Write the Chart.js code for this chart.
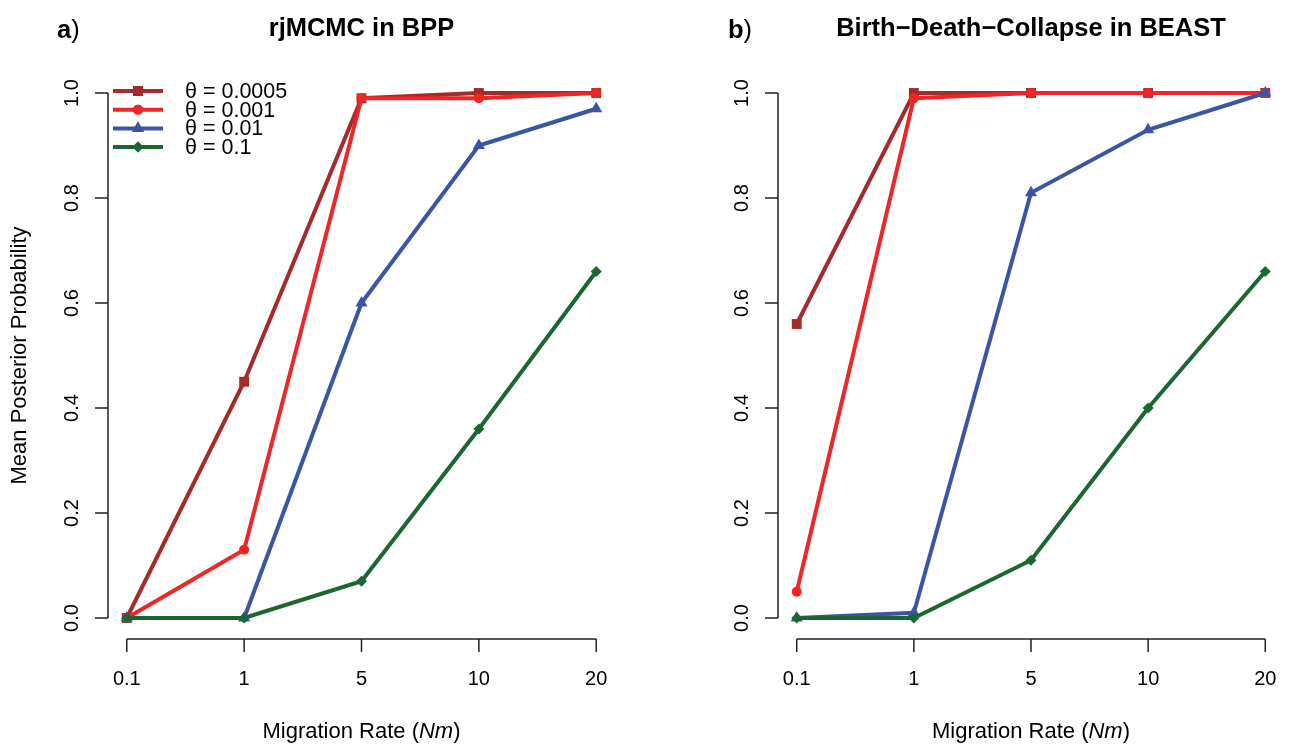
<!DOCTYPE html>
<html>
<head>
<meta charset="utf-8">
<script src="https://cdn.jsdelivr.net/npm/chart.js@4.4.1/dist/chart.umd.min.js"></script>
<style>
  html, body { margin: 0; padding: 0; background: #fff; overflow: hidden; }
  #wrap { position: relative; width: 1291px; height: 749px; }
  canvas { position: absolute; left: 0; top: 0; }
</style>
</head>
<body>
<div id="wrap">
  <canvas id="bppChart" width="1291" height="749"></canvas>
  <canvas id="beastChart" width="1291" height="749"></canvas>
</div>
<script>
const migrationRates = ['0.1', '1', '5', '10', '20'];
const yTicks = [0, 0.2, 0.4, 0.6, 0.8, 1.0];
const thetaLabels = ['θ = 0.0005', 'θ = 0.001', 'θ = 0.01', 'θ = 0.1'];

// panel a) rjMCMC in BPP
const bppTheta0005 = [0, 0.45, 0.99, 1.0, 1.0];
const bppTheta001 = [0, 0.13, 0.99, 0.99, 1.0];
const bppTheta01 = [0, 0, 0.60, 0.90, 0.97];
const bppTheta1 = [0, 0, 0.07, 0.36, 0.66];

// panel b) Birth-Death-Collapse in BEAST
const beastTheta0005 = [0.56, 1.0, 1.0, 1.0, 1.0];
const beastTheta001 = [0.05, 0.99, 1.0, 1.0, 1.0];
const beastTheta01 = [0, 0.01, 0.81, 0.93, 1.0];
const beastTheta1 = [0, 0, 0.11, 0.40, 0.66];

const lineColors = ['#a52a2a', '#ee2626', '#3c54a5', '#1c6633'];
const pointStyles = ['rect', 'circle', 'triangle', 'rectRot'];
const pointSizes = [7, 5, 7, 5.5];

const FONT = '"Liberation Sans", Arial, Helvetica, sans-serif';

function buildDatasets(seriesList) {
  return seriesList.map((vals, k) => ({
    label: thetaLabels[k],
    data: vals.map((v, i) => ({ x: i + 1, y: v })),
    borderColor: lineColors[k],
    backgroundColor: lineColors[k],
    borderWidth: 4,
    pointStyle: pointStyles[k],
    pointRadius: pointSizes[k],
    pointBorderWidth: 0,
    tension: 0,
    order: 3 - k,
    clip: false
  }));
}

const rAxes = {
  id: 'rAxes',
  afterDraw(chart, args, opts) {
    const ctx = chart.ctx;
    const xs = chart.scales.x, ys = chart.scales.y;
    const area = chart.chartArea;
    ctx.save();
    ctx.strokeStyle = '#222';
    ctx.fillStyle = '#000';
    ctx.lineWidth = 1.5;

    // y axis
    const yTop = ys.getPixelForValue(yTicks[yTicks.length - 1]);
    const yBot = ys.getPixelForValue(yTicks[0]);
    ctx.beginPath();
    ctx.moveTo(area.left, yTop);
    ctx.lineTo(area.left, yBot);
    yTicks.forEach(t => {
      const py = ys.getPixelForValue(t);
      ctx.moveTo(area.left, py);
      ctx.lineTo(area.left - 13, py);
    });
    ctx.stroke();
    ctx.font = '20px ' + FONT;
    ctx.textAlign = 'center';
    ctx.textBaseline = 'middle';
    yTicks.forEach(t => {
      const py = ys.getPixelForValue(t);
      ctx.save();
      ctx.translate(area.left - 36, py);
      ctx.rotate(-Math.PI / 2);
      ctx.fillText(t.toFixed(1), 0, 0);
      ctx.restore();
    });

    // x axis
    const xL = xs.getPixelForValue(1);
    const xR = xs.getPixelForValue(migrationRates.length);
    ctx.beginPath();
    ctx.moveTo(xL, area.bottom);
    ctx.lineTo(xR, area.bottom);
    migrationRates.forEach((_, i) => {
      const px = xs.getPixelForValue(i + 1);
      ctx.moveTo(px, area.bottom);
      ctx.lineTo(px, area.bottom + 13);
    });
    ctx.stroke();
    migrationRates.forEach((lab, i) => {
      ctx.fillText(lab, xs.getPixelForValue(i + 1), area.bottom + 40);
    });

    // x title with italic Nm
    const midX = (area.left + area.right) / 2;
    const tY = area.bottom + 93;
    const p1 = 'Migration Rate (', p2 = 'Nm', p3 = ')';
    const tf = '22px ' + FONT;
    ctx.font = tf;
    const w1 = ctx.measureText(p1).width, w3 = ctx.measureText(p3).width;
    ctx.font = 'italic ' + tf;
    const w2 = ctx.measureText(p2).width;
    let sx = midX - (w1 + w2 + w3) / 2;
    ctx.textAlign = 'left';
    ctx.font = tf;
    ctx.fillText(p1, sx, tY);
    ctx.font = 'italic ' + tf;
    ctx.fillText(p2, sx + w1, tY);
    ctx.font = tf;
    ctx.fillText(p3, sx + w1 + w2, tY);

    // y title
    if (opts.yTitle) {
      ctx.save();
      ctx.translate(20, (area.top + area.bottom) / 2);
      ctx.rotate(-Math.PI / 2);
      ctx.textAlign = 'center';
      ctx.font = tf;
      ctx.fillText(opts.yTitle, 0, 0);
      ctx.restore();
    }

    // panel title + letter
    ctx.textBaseline = 'alphabetic';
    ctx.textAlign = 'center';
    ctx.font = 'bold 25.5px ' + FONT;
    ctx.fillText(opts.title, midX, 36);
    ctx.textAlign = 'left';
    ctx.fillText(opts.letter, opts.letterX, 38);
    const wl = ctx.measureText(opts.letter).width;
    ctx.font = '25.5px ' + FONT;
    ctx.fillText(')', opts.letterX + wl, 38);

    // legend
    if (opts.legend) {
      chart.data.datasets.forEach((ds, k) => {
        const ly = 91 + k * 18.7;
        ctx.strokeStyle = ds.borderColor;
        ctx.lineWidth = 4;
        ctx.beginPath();
        ctx.moveTo(113, ly);
        ctx.lineTo(163, ly);
        ctx.stroke();
        ctx.fillStyle = ds.borderColor;
        Chart.helpers.drawPoint(ctx, {
          pointStyle: ds.pointStyle, radius: ds.pointRadius, borderWidth: 0, rotation: 0
        }, 138, ly);
        ctx.fill();
        ctx.fillStyle = '#000';
        ctx.font = '21.5px ' + FONT;
        ctx.textBaseline = 'middle';
        ctx.fillText(ds.label, 185, ly + 1);
      });
    }
    ctx.restore();
  }
};

function createPanel(id, seriesList, padding, opts) {
  return new Chart(document.getElementById(id), {
    type: 'line',
    data: { datasets: buildDatasets(seriesList) },
    plugins: [rAxes],
    options: {
      responsive: false,
      animation: false,
      events: [],
      layout: { padding: padding },
      plugins: {
        legend: { display: false },
        tooltip: { enabled: false },
        rAxes: opts
      },
      scales: {
        x: { type: 'linear', min: 0.84, max: 5.16, display: false },
        y: { type: 'linear', min: -0.04, max: 1.04, display: false }
      }
    }
  });
}

createPanel('bppChart',
  [bppTheta0005, bppTheta001, bppTheta01, bppTheta1],
  { left: 108, right: 676, top: 72, bottom: 110 },
  { title: 'rjMCMC in BPP', letter: 'a', letterX: 57, yTitle: 'Mean Posterior Probability', legend: true });

createPanel('beastChart',
  [beastTheta0005, beastTheta001, beastTheta01, beastTheta1],
  { left: 778, right: 6, top: 72, bottom: 110 },
  { title: 'Birth\u2212Death\u2212Collapse in BEAST', letter: 'b', letterX: 728, legend: false });
</script>
</body>
</html>
